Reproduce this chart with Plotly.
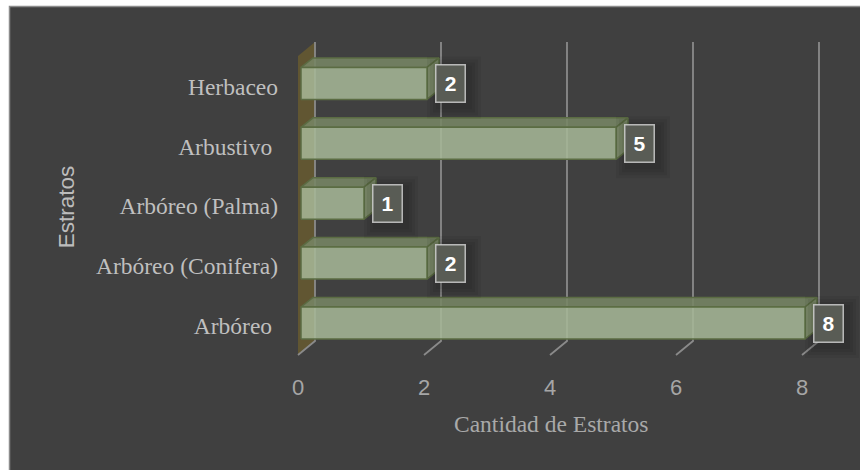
import plotly.graph_objects as go

# ---- data -------------------------------------------------------------
CATEGORIES = ["Arbóreo\u00a0", "Arbóreo (Conifera)", "Arbóreo (Palma)", "Arbustivo\u00a0", "Herbaceo"]
COUNTS = [8, 2, 1, 5, 2]
X_TICKS = [0, 2, 4, 6, 8]
X_TITLE = "Cantidad de Estratos"
Y_TITLE = "Estratos"

# ---- canvas / scale ---------------------------------------------------
W, H = 860, 470
ML, MR, MT, MB = 285, 0, 30, 110
PX_UNIT = 63.0      # pixels per count on the x axis
PX_ROW = 59.9       # pixels between category rows
X0_PX = 298.0       # pixel column of the value 0 on the front floor edge
ROW0_PX = 323.0     # pixel row of the first category

PW, PH = W - ML - MR, H - MT - MB


def ux(px):
    """horizontal pixel offset -> x-axis units"""
    return px / PX_UNIT


def y_at(py):
    return (ROW0_PX - py) / PX_ROW


def paper_x(px):
    return (px - ML) / PW


def paper_y(py):
    return 1 - (py - MT) / PH


x_range = [(ML - X0_PX) / PX_UNIT, (W - MR - X0_PX) / PX_UNIT]
y_range = [y_at(H - MB), y_at(MT)]

# 3-D box geometry
FLOOR_FRONT = y_at(355)
FLOOR_BACK = y_at(341)
WALL_TOP = y_at(42)
BACK_DX = ux(17)
BAR_OX = ux(3)
BAR_HALF = 16 / PX_ROW
DEPTH_DX = ux(12)
DEPTH_DY = 9.5 / PX_ROW

BG = "#404040"
GRID = "#8a8a8a"
WALL = "#615632"
EDGE = "#5b6c43"
FRONT = "rgba(166,184,151,0.86)"
TOP = "rgba(118,133,100,0.88)"
SIDE = "rgba(130,146,109,0.88)"

fig = go.Figure()

# side wall at the left of the plot box
fig.add_trace(go.Scatter(
    x=[0, BACK_DX, BACK_DX, 0, 0],
    y=[FLOOR_FRONT, FLOOR_BACK, WALL_TOP, WALL_TOP + (FLOOR_FRONT - FLOOR_BACK), FLOOR_FRONT],
    fill="toself", fillcolor=WALL, line=dict(width=0), mode="lines",
    hoverinfo="skip", showlegend=False))

# value gridlines: back wall verticals plus floor diagonals
gx, gy = [], []
for t in X_TICKS:
    gx += [t, t + BACK_DX, t + BACK_DX, None]
    gy += [FLOOR_FRONT, FLOOR_BACK, WALL_TOP, None]
fig.add_trace(go.Scatter(x=gx, y=gy, mode="lines",
                         line=dict(color=GRID, width=1.8),
                         hoverinfo="skip", showlegend=False))

# bars as shaded boxes
for i, v in enumerate(COUNTS):
    x0, x1 = BAR_OX, v + BAR_OX
    yb, yt = i - BAR_HALF, i + BAR_HALF
    faces = [
        ([x0, x1, x1 + DEPTH_DX, x0 + DEPTH_DX, x0],
         [yt, yt, yt + DEPTH_DY, yt + DEPTH_DY, yt], TOP),
        ([x1, x1, x1 + DEPTH_DX, x1 + DEPTH_DX, x1],
         [yb, yt, yt + DEPTH_DY, yb + DEPTH_DY, yb], SIDE),
        ([x0, x1, x1, x0, x0], [yb, yb, yt, yt, yb], FRONT),
    ]
    for fx, fy, col in faces:
        fig.add_trace(go.Scatter(x=fx, y=fy, fill="toself", fillcolor=col,
                                 mode="lines", line=dict(color=EDGE, width=1.5),
                                 hoverinfo="skip", showlegend=False))

shapes = [
    # dark chart frame
    dict(type="rect", xref="paper", yref="paper", layer="below",
         x0=paper_x(9.5), x1=paper_x(W + 40), y0=paper_y(H + 40), y1=paper_y(6.5),
         fillcolor=BG, line=dict(color="#8c8c8c", width=1.5)),
]

annotations = []
LABEL_GAP = ux(8)
BOX_W = ux(30)
for i, v in enumerate(COUNTS):
    cx = v + BAR_OX + LABEL_GAP + BOX_W / 2
    # soft drop shadow behind the value box
    for k in range(4):
        grow = 3 + 3 * k
        shapes.append(dict(
            type="rect", xref="x", yref="y", layer="above",
            x0=cx - ux(15 + grow - 4), x1=cx + ux(15 + grow + 4),
            y0=i - (19 + grow + 4) / PX_ROW, y1=i + (19 + grow - 4) / PX_ROW,
            fillcolor="rgba(0,0,0,0.055)", line=dict(width=0)))
    annotations.append(dict(
        x=cx, y=i, xref="x", yref="y", text="<b>%d</b>" % v, showarrow=False,
        width=26, height=34, borderpad=1, borderwidth=1.5,
        bordercolor="rgba(215,215,215,0.8)", bgcolor="#595c55",
        font=dict(family="Liberation Sans, Arial, sans-serif", size=21, color="white"),
        xanchor="center", yanchor="middle"))

annotations.append(dict(
    x=paper_x(550.5), y=paper_y(423.5), xref="paper", yref="paper",
    text=X_TITLE, showarrow=False, xanchor="center", yanchor="middle",
    font=dict(family="Liberation Serif, Times New Roman, serif", size=23.5, color="#a9a9a9")))
annotations.append(dict(
    x=paper_x(66.3), y=paper_y(207), xref="paper", yref="paper",
    text=Y_TITLE, showarrow=False, textangle=-90, xanchor="center", yanchor="middle",
    font=dict(family="Liberation Sans, Arial, sans-serif", size=22.5, color="#bcbcbc")))

fig.update_layout(
    width=W, height=H,
    margin=dict(l=ML, r=MR, t=MT, b=MB, autoexpand=False),
    paper_bgcolor="white", plot_bgcolor="rgba(0,0,0,0)",
    shapes=shapes, annotations=annotations, showlegend=False,
    xaxis=dict(range=x_range, tickvals=X_TICKS, ticktext=[str(t) for t in X_TICKS],
               showgrid=False, zeroline=False, showline=False, ticks="",
               ticklabelstandoff=12, fixedrange=True,
               tickfont=dict(family="Liberation Sans, Arial, sans-serif", size=22, color="#a6a6a6")),
    yaxis=dict(range=y_range, tickvals=[i - 0.05 for i in range(len(CATEGORIES))],
               ticktext=CATEGORIES, showgrid=False, zeroline=False, showline=False,
               ticks="", ticklabelstandoff=6, fixedrange=True,
               tickfont=dict(family="Liberation Serif, Times New Roman, serif", size=23.5, color="#bfbfbf")),
)

fig.write_html("out.html")
